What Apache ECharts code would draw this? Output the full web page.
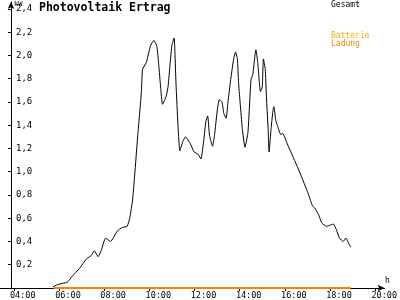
<!DOCTYPE html>
<html><head><meta charset="utf-8">
<script src="https://cdn.jsdelivr.net/npm/echarts@6/dist/echarts.min.js"></script>
<style>html,body{margin:0;padding:0;background:#fff}#c{width:400px;height:300px}</style>
</head><body><div id="c"></div>
<script>
const times = ['05:44','05:57','06:22','06:35','06:55','07:13','07:26','07:34','07:44','07:52','08:04','08:17','08:35','08:48','09:01','09:08','09:16','09:29','09:39','09:42','09:52','09:59','10:04','10:12','10:20','10:25','10:30','10:35','10:45','10:50','10:55','11:00','11:06','11:08','11:11','11:16','11:21','11:29','11:36','11:49','11:59','12:10','12:17','12:25','12:30','12:35','12:40','12:48','12:53','13:01','13:06','13:13','13:18','13:24','13:29','13:36','13:44','13:49','13:54','13:57','14:07','14:14','14:22','14:30','14:35','14:43','14:48','14:55','15:00','15:03','15:08','15:11','15:16','15:18','15:24','15:29','15:31','15:36','15:41','15:49','15:54','16:09','16:35','17:00','17:13','17:21','17:31','17:38','17:51','17:59','18:09','18:17','18:25','18:35','18:42','18:50','18:55'];
const gesamt = [0.01,0.03,0.05,0.10,0.17,0.25,0.28,0.32,0.27,0.32,0.43,0.40,0.49,0.52,0.53,0.60,0.77,1.30,1.69,1.88,1.94,2.03,2.09,2.13,2.08,1.92,1.73,1.58,1.65,1.74,1.92,2.09,2.15,2.03,1.75,1.41,1.18,1.26,1.30,1.24,1.17,1.15,1.11,1.28,1.43,1.48,1.31,1.22,1.31,1.54,1.62,1.60,1.50,1.46,1.60,1.79,1.97,2.03,1.97,1.77,1.37,1.21,1.34,1.79,1.84,2.05,1.94,1.69,1.73,1.97,1.88,1.65,1.34,1.17,1.39,1.54,1.56,1.44,1.39,1.32,1.33,1.22,1.03,0.83,0.71,0.68,0.62,0.56,0.53,0.54,0.55,0.50,0.43,0.40,0.43,0.38,0.35];
const ladungTimes = ['05:46','18:55'];
const ladung = [0, 0];
const xTicks = [4, 6, 8, 10, 12, 14, 16, 18, 20];
const yTicks = [0.2, 0.4, 0.6, 0.8, 1.0, 1.2, 1.4, 1.6, 1.8, 2.0, 2.2, 2.4];
const seriesNames = ['Gesamt', 'Batterie', 'Ladung'];
const titleText = 'Photovoltaik Ertrag';
const xUnit = 'h';
const yUnit = 'kW';

const toH = t => { const p = t.split(':'); return +p[0] + (+p[1]) / 60; };
const pad = n => (n < 10 ? '0' : '') + n;
const mono = 'DejaVu Sans Mono';

const chart = echarts.init(document.getElementById('c'), null, {renderer: 'canvas'});
chart.setOption({
  animation: false,
  backgroundColor: '#fff',
  title: {text: titleText, left: 39, top: 2, padding: 0, textStyle: {fontFamily: mono, fontSize: 11.5, fontWeight: 'bold', color: '#000'}},
  legend: [
    {data: [{name: seriesNames[0], textStyle: {color: '#000'}}], left: 325, top: 1, padding: 0, itemWidth: 0, itemHeight: 0, selectedMode: false,
     textStyle: {fontFamily: mono, fontSize: 8}},
    {data: [{name: seriesNames[1], textStyle: {color: '#ffaa00'}}, {name: seriesNames[2], textStyle: {color: '#ff8000'}}],
     orient: 'vertical', left: 325, top: 32, padding: 0, itemGap: 0, itemWidth: 0, itemHeight: 0, selectedMode: false,
     textStyle: {fontFamily: mono, fontSize: 8}}
  ],
  graphic: [
    {type: 'text', left: 385, top: 277, style: {text: xUnit, font: '8px "DejaVu Sans Mono"', fill: '#000'}},
    {type: 'text', left: 14, top: 1, style: {text: yUnit, font: '7px "DejaVu Sans Mono"', fill: '#000'}}
  ],
  grid: {left: 0, right: 0, top: 2, bottom: 10},
  xAxis: {
    type: 'value', min: 3.39, max: 20.41,
    axisLine: {show: true, lineStyle: {color: '#000', width: 1}, symbol: ['none', 'arrow'], symbolSize: [5, 7]},
    axisTick: {show: true, customValues: xTicks, length: 3, lineStyle: {color: '#000'}},
    axisLabel: {customValues: xTicks, formatter: v => pad(Math.round(v)) + ':00', fontFamily: mono, fontSize: 8.5, color: '#000', margin: 3, align: 'center', padding: [0, 0, 0, 18]},
    splitLine: {show: false}
  },
  yAxis: {
    type: 'value', min: 0, max: 2.46, offset: -11,
    axisLine: {show: true, onZero: false, lineStyle: {color: '#000', width: 1}, symbol: ['none', 'arrow'], symbolSize: [5, 7]},
    axisTick: {show: true, customValues: yTicks, length: 3, lineStyle: {color: '#000'}},
    axisLabel: {customValues: yTicks, inside: true, margin: 5, formatter: v => v.toFixed(1).replace('.', ','), fontFamily: mono, fontSize: 9, color: '#000'},
    splitLine: {show: false}
  },
  series: [
    {name: seriesNames[0], type: 'line', data: times.map((t, i) => [toH(t), gesamt[i]]), showSymbol: false, symbol: 'none',
     smooth: 0.15, lineStyle: {color: '#000', width: 1}, itemStyle: {color: '#000'}, z: 3},
    {name: seriesNames[1], type: 'line', data: [], symbol: 'none', lineStyle: {color: '#ffaa00', width: 2}, itemStyle: {color: '#ffaa00'}},
    {name: seriesNames[2], type: 'line', data: ladungTimes.map((t, i) => [toH(t), ladung[i]]), symbol: 'none',
     lineStyle: {color: '#ff8000', width: 2}, itemStyle: {color: '#ff8000'}, z: 4}
  ]
});
</script></body></html>
